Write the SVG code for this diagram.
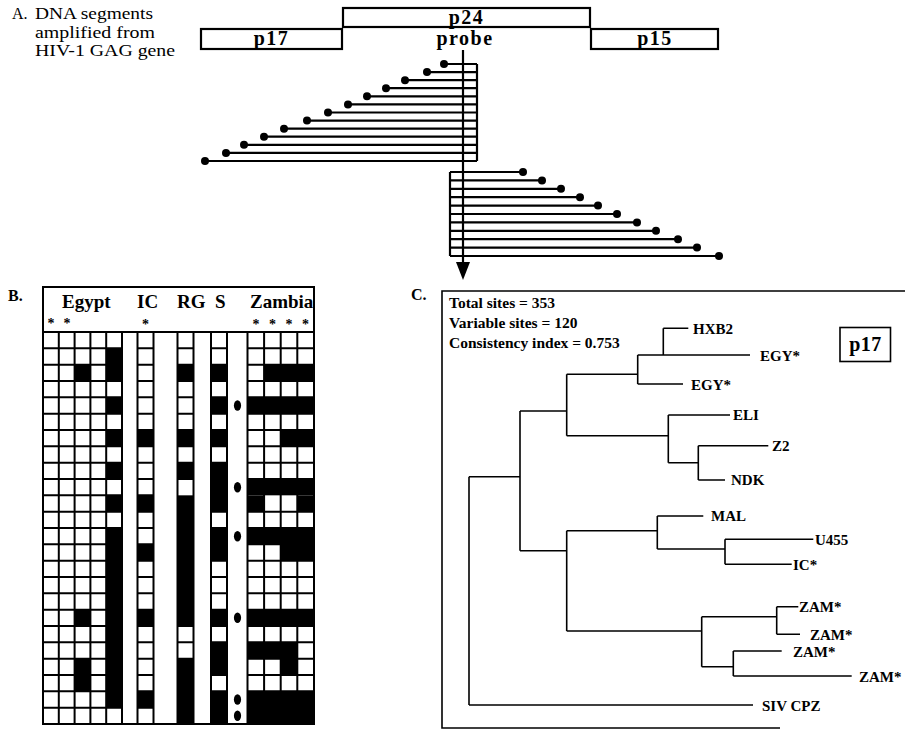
<svg xmlns="http://www.w3.org/2000/svg" width="905" height="730" viewBox="0 0 905 730">
<style>
text{font-family:"Liberation Serif","DejaVu Serif",serif;fill:#000}
.lbl{font-size:16px}
.gene{font-size:20px;font-weight:bold;letter-spacing:1.5px}
.hdr{font-size:19px;font-weight:bold}
.st{font-size:16px;font-weight:bold}
.info{font-size:15.5px;font-weight:bold}
.leaf{font-size:15px;font-weight:bold}
.star{font-size:14px;font-weight:bold}
.box{fill:none;stroke:#000;stroke-width:2.2}
.frag{stroke:#000;stroke-width:2.2;fill:none}
.dot{fill:#000}
.cell{fill:#fff;stroke:#000;stroke-width:2}
.grid{stroke:#000;stroke-width:2;fill:none}
.blk{fill:#000}
.tree{stroke:#000;stroke-width:1.6;fill:none}
.frame{stroke:#000;stroke-width:1.6;fill:none}
</style>
<defs>
<marker id="arrow" markerUnits="userSpaceOnUse" viewBox="0 -7 18 14" markerWidth="18" markerHeight="14" refX="0" refY="0" orient="auto">
<path d="M0,-7 L18,0 L0,7 z" fill="#000"/>
</marker>
</defs>
<rect width="905" height="730" fill="#fff"/>

<!-- Panel A -->
<g id="panelA-title">
<text class="lbl" x="12" y="19">A.</text>
<text class="lbl" x="35" y="19" textLength="118" lengthAdjust="spacingAndGlyphs">DNA segments</text>
<text class="lbl" x="35" y="37.5" textLength="120" lengthAdjust="spacingAndGlyphs">amplified from</text>
<text class="lbl" x="35" y="56" textLength="140" lengthAdjust="spacingAndGlyphs">HIV-1 GAG gene</text>
</g>
<g id="p24"><rect class="box" x="343" y="8" width="247" height="19"/><text class="gene" x="466.5" y="23.5" text-anchor="middle">p24</text></g>
<g id="p17"><rect class="box" x="201" y="29" width="141" height="20"/><text class="gene" x="271.5" y="45" text-anchor="middle">p17</text></g>
<g id="p15"><rect class="box" x="591" y="29" width="127" height="20"/><text class="gene" x="655" y="45" text-anchor="middle">p15</text></g>
<g id="probe"><text class="gene" x="465" y="45" text-anchor="middle">probe</text></g>

<g id="fragments">
<path class="frag" d="M444,64H477M427,72.1H477M405,80.2H477M386,88.2H477M367,96.3H477M348,104.4H477M328,112.5H477M307,120.6H477M284,128.7H477M264,136.7H477M244,144.8H477M226,152.9H477M205,161H477M477,64V161"/>
<g class="dot">
<circle cx="444" cy="64" r="4"/><circle cx="427" cy="72.1" r="4"/><circle cx="405" cy="80.2" r="4"/><circle cx="386" cy="88.2" r="4"/><circle cx="367" cy="96.3" r="4"/><circle cx="348" cy="104.4" r="4"/><circle cx="328" cy="112.5" r="4"/><circle cx="307" cy="120.6" r="4"/><circle cx="284" cy="128.7" r="4"/><circle cx="264" cy="136.7" r="4"/><circle cx="244" cy="144.8" r="4"/><circle cx="226" cy="152.9" r="4"/><circle cx="205" cy="161" r="4"/>
</g>
<path class="frag" d="M450,172H523M450,180.4H542M450,188.8H561M450,197.2H580M450,205.6H598M450,214H617M450,222.4H637M450,230.8H656M450,239.2H678M450,247.6H697M450,256H719M450,172V256"/>
<g class="dot">
<circle cx="523" cy="172" r="4"/><circle cx="542" cy="180.4" r="4"/><circle cx="561" cy="188.8" r="4"/><circle cx="580" cy="197.2" r="4"/><circle cx="598" cy="205.6" r="4"/><circle cx="617" cy="214" r="4"/><circle cx="637" cy="222.4" r="4"/><circle cx="656" cy="230.8" r="4"/><circle cx="678" cy="239.2" r="4"/><circle cx="697" cy="247.6" r="4"/><circle cx="719" cy="256" r="4"/>
</g>
<line class="frag" x1="463" y1="50" x2="463" y2="262" marker-end="url(#arrow)"/>
</g>

<!-- Panel B -->
<g id="panelB">
<text class="st" x="8" y="301">B.</text>
<rect class="grid" x="43" y="287" width="271" height="437"/>
<line class="grid" x1="43" y1="332" x2="314" y2="332"/>
<text class="hdr" x="62" y="308">Egypt</text>
<text class="hdr" x="137" y="308">IC</text>
<text class="hdr" x="177" y="308">RG</text>
<text class="hdr" x="215" y="308">S</text>
<text class="hdr" x="250" y="308">Zambia</text>
<g>
<text class="star" x="51" y="328" text-anchor="middle">*</text>
<text class="star" x="67" y="328" text-anchor="middle">*</text>
<text class="star" x="145.5" y="329" text-anchor="middle">*</text>
<text class="star" x="256" y="329" text-anchor="middle">*</text>
<text class="star" x="272.5" y="329" text-anchor="middle">*</text>
<text class="star" x="289" y="329" text-anchor="middle">*</text>
<text class="star" x="305.5" y="329" text-anchor="middle">*</text>
</g>
<!-- column bodies -->
<rect class="cell" x="43" y="332" width="79" height="392"/>
<rect class="cell" x="137.5" y="332" width="16" height="392"/>
<rect class="cell" x="177.5" y="332" width="16" height="392"/>
<rect class="cell" x="211" y="332" width="16" height="392"/>
<rect class="cell" x="247.5" y="332" width="66.5" height="392"/>
<!-- black runs -->
<g class="blk">
<rect x="74.6" y="364.67" width="15.8" height="16.33"/>
<rect x="74.6" y="609.67" width="15.8" height="16.33"/>
<rect x="74.6" y="658.67" width="15.8" height="32.67"/>
<rect x="106.2" y="348.33" width="15.8" height="32.67"/>
<rect x="106.2" y="397.33" width="15.8" height="16.33"/>
<rect x="106.2" y="430" width="15.8" height="16.33"/>
<rect x="106.2" y="462.67" width="15.8" height="16.33"/>
<rect x="106.2" y="495.33" width="15.8" height="16.33"/>
<rect x="106.2" y="528" width="15.8" height="179.67"/>
<rect x="137.5" y="430" width="16" height="16.33"/>
<rect x="137.5" y="495.33" width="16" height="16.33"/>
<rect x="137.5" y="544.33" width="16" height="16.33"/>
<rect x="137.5" y="609.67" width="16" height="16.33"/>
<rect x="137.5" y="691.33" width="16" height="16.33"/>
<rect x="177.5" y="364.67" width="16" height="16.33"/>
<rect x="177.5" y="430" width="16" height="16.33"/>
<rect x="177.5" y="462.67" width="16" height="16.33"/>
<rect x="177.5" y="495.33" width="16" height="130.67"/>
<rect x="177.5" y="658.67" width="16" height="65.33"/>
<rect x="211" y="364.67" width="16" height="16.33"/>
<rect x="211" y="397.33" width="16" height="16.33"/>
<rect x="211" y="430" width="16" height="16.33"/>
<rect x="211" y="462.67" width="16" height="49"/>
<rect x="211" y="528" width="16" height="32.67"/>
<rect x="211" y="609.67" width="16" height="16.33"/>
<rect x="211" y="642.33" width="16" height="32.67"/>
<rect x="211" y="691.33" width="16" height="32.67"/>
<rect x="264.1" y="364.67" width="49.9" height="16.33"/>
<rect x="247.5" y="397.33" width="66.5" height="16.33"/>
<rect x="280.7" y="430" width="33.3" height="16.33"/>
<rect x="247.5" y="479" width="66.5" height="16.33"/>
<rect x="247.5" y="495.33" width="16.6" height="16.33"/>
<rect x="297.3" y="495.33" width="16.7" height="16.33"/>
<rect x="247.5" y="528" width="66.5" height="16.33"/>
<rect x="280.7" y="544.33" width="33.3" height="16.33"/>
<rect x="247.5" y="609.67" width="66.5" height="16.33"/>
<rect x="247.5" y="642.33" width="49.8" height="16.33"/>
<rect x="280.7" y="658.67" width="16.6" height="16.33"/>
<rect x="247.5" y="691.33" width="66.5" height="32.67"/>
</g>
<!-- grid lines -->
<path class="grid" d="M58.8,332V724M74.6,332V724M90.4,332V724M106.2,332V724M264.1,332V724M280.7,332V724M297.3,332V724
M43,348.33H122M43,364.67H122M43,381H122M43,397.33H122M43,413.67H122M43,430H122M43,446.33H122M43,462.67H122M43,479H122M43,495.33H122M43,511.67H122M43,528H122M43,544.33H122M43,560.67H122M43,577H122M43,593.33H122M43,609.67H122M43,626H122M43,642.33H122M43,658.67H122M43,675H122M43,691.33H122M43,707.67H122
M137.5,348.33h16M137.5,364.67h16M137.5,381h16M137.5,397.33h16M137.5,413.67h16M137.5,430h16M137.5,446.33h16M137.5,462.67h16M137.5,479h16M137.5,495.33h16M137.5,511.67h16M137.5,528h16M137.5,544.33h16M137.5,560.67h16M137.5,577h16M137.5,593.33h16M137.5,609.67h16M137.5,626h16M137.5,642.33h16M137.5,658.67h16M137.5,675h16M137.5,691.33h16M137.5,707.67h16
M177.5,348.33h16M177.5,364.67h16M177.5,381h16M177.5,397.33h16M177.5,413.67h16M177.5,430h16M177.5,446.33h16M177.5,462.67h16M177.5,479h16
M177.5,626h16M177.5,642.33h16M177.5,658.67h16
M211,348.33h16M211,364.67h16M211,381h16M211,397.33h16M211,413.67h16M211,430h16M211,446.33h16M211,462.67h16M211,511.67h16M211,528h16M211,560.67h16M211,577h16M211,593.33h16M211,609.67h16M211,626h16M211,642.33h16M211,675h16M211,691.33h16
M247.5,348.33H314M247.5,364.67H314M247.5,381H314M247.5,397.33H314M247.5,413.67H314M247.5,430H314M247.5,446.33H314M247.5,462.67H314M247.5,479H314M247.5,511.67H314M247.5,528H314M247.5,544.33H314M247.5,560.67H314M247.5,577H314M247.5,593.33H314M247.5,609.67H314M247.5,626H314M247.5,642.33H314M247.5,658.67H314M247.5,675H314M247.5,691.33H314"/>
<g class="dot">
<ellipse cx="237.5" cy="405.5" rx="3.6" ry="5.2"/>
<ellipse cx="237.5" cy="487.2" rx="3.6" ry="5.2"/>
<ellipse cx="237.5" cy="536.2" rx="3.6" ry="5.2"/>
<ellipse cx="237.5" cy="617.8" rx="3.6" ry="5.2"/>
<ellipse cx="237.5" cy="699.5" rx="3.6" ry="5.2"/>
<ellipse cx="237.5" cy="715.8" rx="3.6" ry="5.2"/>
</g>
</g>

<!-- Panel C -->
<g id="panelC">
<text class="st" x="411" y="300">C.</text>
<path class="frame" d="M905,291H442V728H780"/>
<text class="info" x="449" y="308">Total sites = 353</text>
<text class="info" x="449" y="328">Variable sites = 120</text>
<text class="info" x="449" y="348">Consistency index = 0.753</text>
<g id="p17-tag"><rect x="840" y="327.5" width="50.5" height="34" fill="none" stroke="#000" stroke-width="1.6"/><text class="gene" x="865.5" y="351" text-anchor="middle" font-size="18" style="letter-spacing:0.5px">p17</text></g>
</g>
<g id="tree-connectors">
<path class="tree" d="M469,476.7V705M469,476.7H520M469,705H753
M520,411V550.7M520,411H566.7M520,550.7H566.7
M566.7,374.3V435.7M566.7,374.3H637.7M566.7,435.7H668.3
M637.7,355V384M637.7,355H750M637.7,384H683
M663.3,328.3V355M663.3,328.3H688.3
M668.3,415V462.7M668.3,415H730M668.3,462.7H698.3
M698.3,445.7V480M698.3,445.7H768.3M698.3,480H725
M566.7,530.7V631M566.7,530.7H657.3M566.7,631H701.7
M657.3,516V549M657.3,516H703.3M657.3,549H725
M725,539.3V564.3M725,539.3H813.3M725,564.3H791.7
M701.7,616.7V666.7M701.7,616.7H776.7M701.7,666.7H733.3
M776.7,606.7V634.3M776.7,606.7H798.3M776.7,634.3H800
M733.3,651V676M733.3,651H781.7M733.3,676H851.7"/>
</g>
<g id="tree-leaves">
<text class="leaf" id="HXB2" x="693" y="333.5">HXB2</text>
<text class="leaf" x="760" y="361">EGY*</text>
<text class="leaf" x="691" y="389.5">EGY*</text>
<text class="leaf" x="733" y="420">ELI</text>
<text class="leaf" x="772" y="451">Z2</text>
<text class="leaf" x="731" y="485">NDK</text>
<text class="leaf" x="711" y="521">MAL</text>
<text class="leaf" x="815" y="544.5">U455</text>
<text class="leaf" x="793" y="569.5">IC*</text>
<text class="leaf" x="799" y="612">ZAM*</text>
<text class="leaf" x="810" y="639.5">ZAM*</text>
<text class="leaf" x="793" y="656.5">ZAM*</text>
<text class="leaf" x="859" y="681.5">ZAM*</text>
<text class="leaf" x="762" y="710.5">SIV CPZ</text>
</g>
</svg>
